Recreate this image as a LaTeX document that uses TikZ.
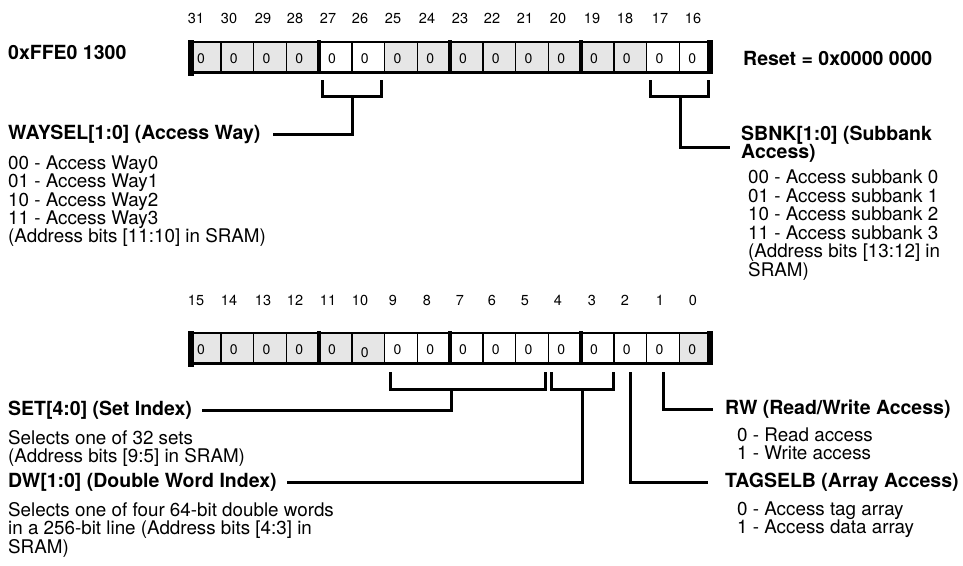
\documentclass[tikz,border=0pt]{standalone}
\usepackage{fontspec}
\setmainfont{TeX Gyre Heros}
\definecolor{cellgrey}{HTML}{E6E6E6}
\begin{document}
\begin{tikzpicture}[x=1pt,y=-1pt,
  conn/.style={line width=3pt, line join=miter},
  hd/.style={font=\bfseries\fontsize{19.5}{19}\selectfont, inner sep=0pt, anchor=west},
  bd/.style={font=\fontsize{18.8}{18.3}\selectfont, inner sep=0pt, anchor=base west},
  bitno/.style={font=\fontsize{14.5}{14}\selectfont, inner sep=0pt, anchor=base},
  dig/.style={font=\fontsize{14}{14}\selectfont, inner sep=0pt, anchor=base west},
  cell/.style={fill=#1, draw=none, minimum width=32.75pt, minimum height=32pt, inner sep=0pt, anchor=north west},
  thinsep/.style={line width=1.5pt},
  nibsep/.style={line width=4pt},
  edgebar/.style={line width=5.5pt}]
\useasboundingbox (0,0) rectangle (963,565);

% ---------- bit numbers ----------
\foreach \b/\x in {31/196,30/229,29/263,28/295,27/328,26/360,25/393,24/427,23/460,22/492,21/525,20/558,19/592,18/625,17/660,16/693}
  \node[bitno] (nt\b) at (\x,23) {\b};
\foreach \b/\x in {15/196,14/229,13/263,12/295,11/328,10/360,9/393,8/427,7/460,6/492,5/525,4/558,3/592,2/625,1/660,0/693}
  \node[bitno] (nb\b) at (\x,305) {\b};

% ---------- upper register ----------
\foreach \k/\c in {0/cellgrey,1/cellgrey,2/cellgrey,3/cellgrey,4/white,5/white,6/cellgrey,7/cellgrey,8/cellgrey,9/cellgrey,10/cellgrey,11/cellgrey,12/cellgrey,13/cellgrey,14/white,15/white}{
  \node[cell=\c] (ta\k) at ({188+32.75*\k},42) {};
  \node[dig] (tda\k) at ({197+32.75*\k},63) {0};
}
\draw[thinsep] (188,42) -- (712,42);
\foreach \k in {1,2,3,5,6,7,9,10,11,13,14,15}
  \draw[thinsep] ({188+32.75*\k},42) -- ({188+32.75*\k},74);
\foreach \k in {4,8,12}
  \draw[nibsep] ({188+32.75*\k},40) -- ({188+32.75*\k},74);
\draw[line width=3pt] (188,72.5) -- (712,72.5);
\draw[edgebar] (190.75,40) -- (190.75,75.5);
\draw[edgebar] (710,40) -- (710,74);

% ---------- lower register ----------
\foreach \k/\c in {0/cellgrey,1/cellgrey,2/cellgrey,3/cellgrey,4/cellgrey,5/cellgrey,6/white,7/white,8/white,9/white,10/white,11/white,12/white,13/white,14/white,15/cellgrey}{
  \node[cell=\c] (ba\k) at ({188+32.75*\k},333) {};
}
\foreach \k in {0,1,2,3,4,6,7,8,9,10,11,12,13,14,15}
  \node[dig] (bda\k) at ({197+32.75*\k},354) {0};
\node[dig] (bda5) at ({197+32.75*5},357.5) {0};
\draw[thinsep] (188,333) -- (712,333);
\foreach \k in {1,2,3,5,6,7,9,10,11,13,14,15}
  \draw[thinsep] ({188+32.75*\k},333) -- ({188+32.75*\k},365);
\foreach \k in {4,8,12}
  \draw[nibsep] ({188+32.75*\k},331) -- ({188+32.75*\k},365);
\draw[line width=3pt] (188,363.5) -- (712,363.5);
\draw[edgebar] (190.75,331) -- (190.75,366.5);
\draw[edgebar] (710,331) -- (710,365);

% ---------- top labels ----------
\node[hd] (addr) at (8,52) {0xFFE0 1300};
\node[hd] (reset) at (743,58) {Reset = 0x0000 0000};

% WAYSEL
\node[hd] (wayhead) at (8,134) {WAYSEL[1:0] (Access Way)};
\foreach \t [count=\i] in {{00 - Access Way0},{01 - Access Way1},{10 - Access Way2},{11 - Access Way3},{(Address bits [11:10] in SRAM)}}
  \node[bd] (way\i) at (8,{169.5+18.3*(\i-1)}) {\t};
\coordinate (wb1) at (322,80);
\coordinate (wb2) at (381,80);
\coordinate (wstem) at (352,96);
\draw[conn] (wb1) -- (wb1 |- wstem) -- (wb2 |- wstem) -- (wb2);
\draw[conn] (wstem) |- ([xshift=12pt]wayhead.east);

% SBNK
\node[hd, align=left, font=\bfseries\fontsize{19.5}{18.3}\selectfont] (sbnkhead) at (741,144) {SBNK[1:0] (Subbank\\Access)};
\foreach \t [count=\i] in {{00 - Access subbank 0},{01 - Access subbank 1},{10 - Access subbank 2},{11 - Access subbank 3},{(Address bits [13:12] in},{SRAM)}}
  \node[bd] (sb\i) at (748,{183.5+18.5*(\i-1)}) {\t};
\coordinate (sb1c) at (650,80);
\coordinate (sb2c) at (708,80);
\coordinate (sstem) at (680,96);
\coordinate (send) at (730,147);
\draw[conn] (sb1c) -- (sb1c |- sstem) -- (sb2c |- sstem) -- (sb2c);
\draw[conn] (sstem) |- (send);

% ---------- bottom labels ----------
% SET
\node[hd] (sethead) at (8,410) {SET[4:0] (Set Index)};
\foreach \t [count=\i] in {{Selects one of 32 sets},{(Address bits [9:5] in SRAM)}}
  \node[bd] (set\i) at (8,{444.4+18.3*(\i-1)}) {\t};
\coordinate (se1) at (390,372);
\coordinate (se2) at (545,372);
\coordinate (sestem) at (451,389);
\draw[conn] (se1) -- (se1 |- sestem) -- (se2 |- sestem) -- (se2);
\draw[conn] (sestem) |- ([xshift=10pt]sethead.east);

% DW
\node[hd] (dwhead) at (8,482) {DW[1:0] (Double Word Index)};
\foreach \t [count=\i] in {{Selects one of four 64-bit double words},{in a 256-bit line (Address bits [4:3] in},{SRAM)}}
  \node[bd] (dw\i) at (8,{516.4+18.3*(\i-1)}) {\t};
\coordinate (dw1c) at (551,372);
\coordinate (dw2c) at (613,372);
\coordinate (dwstem) at (582,389);
\draw[conn] (dw1c) -- (dw1c |- dwstem) -- (dw2c |- dwstem) -- (dw2c);
\draw[conn] (dwstem) |- ([xshift=10pt]dwhead.east);

% RW
\node[hd] (rwhead) at (725,409) {RW (Read/Write Access)};
\foreach \t [count=\i] in {{0 - Read access},{1 - Write access}}
  \node[bd] (rw\i) at (737,{441.4+18.5*(\i-1)}) {\t};
\coordinate (rwtop) at (663,372);
\draw[conn] (rwtop) |- ([xshift=-12pt]rwhead.west);

% TAGSELB
\node[hd] (taghead) at (725,482) {TAGSELB (Array Access)};
\foreach \t [count=\i] in {{0 - Access tag array},{1 - Access data array}}
  \node[bd] (tag\i) at (737,{515.4+18.5*(\i-1)}) {\t};
\coordinate (tagtop) at (630,372);
\draw[conn] (tagtop) |- ([xshift=-17pt]taghead.west);
\end{tikzpicture}
\end{document}
